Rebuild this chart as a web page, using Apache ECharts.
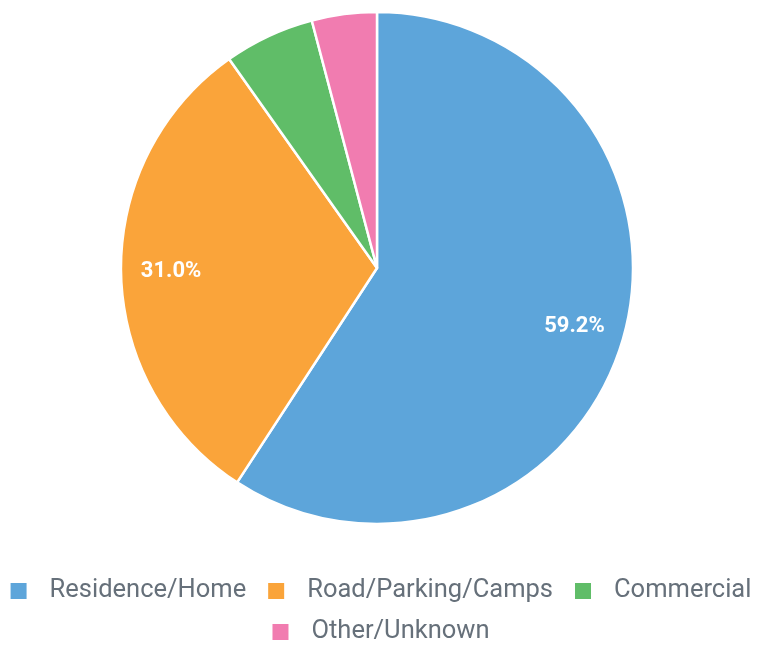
<!DOCTYPE html>
<html><head><meta charset="utf-8">
<script src="https://cdn.jsdelivr.net/npm/echarts@6/dist/echarts.min.js"></script>
<style>html,body{margin:0;padding:0;background:#fff}#c{width:760px;height:650px}</style>
</head><body><div id="c"></div>
<script>
const categories = ['Residence/Home', 'Road/Parking/Camps', 'Commercial', 'Other/Unknown'];
const values = [59.2, 31.0, 5.7, 4.1];
const colors = ['#5DA5DA', '#FAA43A', '#60BD68', '#F17CB0'];
const labelThreshold = 10;

const data = categories.map((c, i) => ({ name: c, value: values[i] }));
const legendBase = {
  left: 'center',
  icon: 'rect',
  itemWidth: 18,
  itemHeight: 18,
  itemGap: 20,
  padding: 0,
  textStyle: { fontFamily: 'Roboto', fontSize: 25.5, color: '#66707a', padding: [0, 0, 0, 17] }
};
const chart = echarts.init(document.getElementById('c'));
chart.setOption({
  animation: false,
  color: colors,
  legend: [
    Object.assign({}, legendBase, { data: categories.slice(0, 3), top: 578 }),
    Object.assign({}, legendBase, { data: categories.slice(3), top: 619 })
  ],
  series: [
    {
      type: 'pie',
      center: [377, 268],
      radius: [0, 256],
      startAngle: 90,
      clockwise: true,
      data: data,
      itemStyle: { borderColor: '#fff', borderWidth: 2.5 },
      label: { show: false },
      labelLine: { show: false }
    },
    {
      type: 'pie',
      center: [377, 268],
      radius: [150, 256],
      startAngle: 90,
      clockwise: true,
      silent: true,
      data: data,
      itemStyle: { color: 'rgba(0,0,0,0)', borderWidth: 0 },
      label: {
        show: true,
        position: 'inside',
        color: '#fff',
        fontFamily: 'Roboto',
        fontSize: 22,
        fontWeight: 'bold',
        formatter: p => p.value >= labelThreshold ? p.value.toFixed(1) + '%' : ''
      },
      labelLine: { show: false }
    }
  ]
});
</script></body></html>
